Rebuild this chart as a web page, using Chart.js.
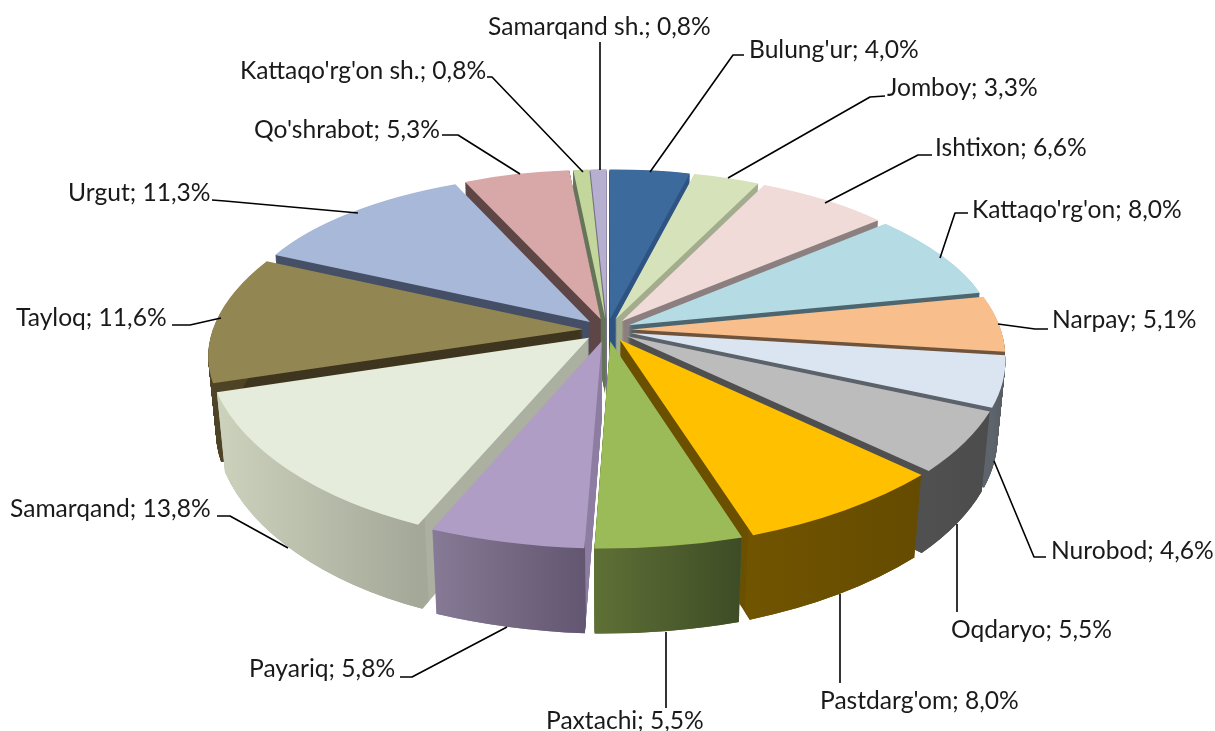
<!DOCTYPE html>
<html>
<head>
<meta charset="utf-8">
<style>html,body{margin:0;padding:0;background:#fff}#wrap{width:1215px;height:731px}</style>
<script src="https://cdn.jsdelivr.net/npm/chart.js@4"></script>
</head>
<body>
<div id="wrap"><canvas id="c" width="1215" height="731" style="width:1215px;height:731px"></canvas></div>
<script>
const categories = ["Bulung'ur","Jomboy","Ishtixon","Kattaqo'rg'on","Narpay","Nurobod","Oqdaryo","Pastdarg'om","Paxtachi","Payariq","Samarqand","Tayloq","Urgut","Qo'shrabot","Kattaqo'rg'on sh.","Samarqand sh."];
const shares = [4.0,3.3,6.6,8.0,5.1,4.6,5.5,8.0,5.5,5.8,13.8,11.6,11.3,5.3,0.8,0.8];
const topColors = ["#3C6A9C","#D6E2BA","#F0DBD9","#B5DBE5","#F8BE8C","#DBE5F1","#BCBCBC","#FFC000","#9BBB59","#B09DC5","#E6ECDB","#928752","#A8B8D8","#D8A8A8","#C3D69B","#B7AFD0"];
const cutColors = ["#2F5483","#A3AD8E","#8C7F7F","#4D6670","#70543C","#5C636B","#505050","#6B5000","#5A6E35","#8F7FA3","#ABB0A0","#3F3620","#454F66","#5F4646","#66755A","#77708A"];
const wallLeft  = ["#2F5483","#A3AD8E","#8C7F7F","#4D6670","#70543C","#5E646B","#505050","#705400","#5F7036","#877A96","#CDD2BD","#4E4425","#454F66","#5F4646","#66755A","#77708A"];
const wallRight = ["#2F5483","#A3AD8E","#8C7F7F","#4D6670","#70543C","#565B60","#4C4C4C","#654B00","#3D4C25","#625670","#A4A898","#4E4425","#454F66","#5F4646","#66755A","#77708A"];

const labelFont = '24.6px Lato, Carlito, sans-serif';
const labelAnchors = [[749,50],[887,88],[935,148],[972,210],[1052,320],[1051,551],[951,630],[820,701],[546,721],[249,669],[10,509],[16,318],[68,193],[254,130],[240,71],[488,27]];
const leaders = [
 [[744,55],[733,55],[650,172]],
 [[885,96],[870,97],[728,178]],
 [[932,155],[918,155],[825,203]],
 [[968,213],[955,213],[940,258]],
 [[1048,329],[1035,329],[998,324]],
 [[1046,557],[1034,557],[994,461]],
 [[957,612],[957,524]],
 [[840,683],[840,594]],
 [[666,708],[666,632]],
 [[400,677],[412,677],[507,627]],
 [[217,516],[230,516],[288,548]],
 [[172,325],[190,325],[221,318]],
 [[212,200],[225,201],[358,213]],
 [[442,135],[458,135],[520,174]],
 [[487,77],[492,77],[583,172]],
 [[600,42],[600,170]]
];

/* perspective of the tilted pie plane */
const view = {cx:607, cy:330, a:370, b:174, k:0.144, depth:78, m:0.02, explode:0.065};
function project(X, Y, z){
  const w = 1 + view.k*Y + view.m*z;
  return {x: view.cx + view.a*X/w, y: view.cy - (view.b*Y - view.depth*z)/w};
}
function sliceTransform(arc, z){
  const mid = (arc.startAngle+arc.endAngle)/2 + Math.PI/2;
  const ox = view.explode*Math.sin(mid), oy = view.explode*Math.cos(mid);
  const us=Math.cos(arc.startAngle), vs=Math.sin(arc.startAngle), ue=Math.cos(arc.endAngle), ve=Math.sin(arc.endAngle);
  const P = project(ox, oy, z);
  const S = project(ox+us, oy-vs, z);
  const E = project(ox+ue, oy-ve, z);
  const det = us*ve-ue*vs;
  const sx=S.x-P.x, sy=S.y-P.y, ex=E.x-P.x, ey=E.y-P.y;
  const Ax=(sx*ve-ex*vs)/det, Ay=(sy*ve-ey*vs)/det;
  const Bx=(ex*us-sx*ue)/det, By=(ey*us-sy*ue)/det;
  return {a:Ax,b:Ay,c:Bx,d:By,e:P.x,f:P.y};
}
function drawArc(ctx, arc, z, fill, inner){
  const t = sliceTransform(arc, z), r = arc.outerRadius;
  ctx.save();
  ctx.transform(t.a/r, t.b/r, t.c/r, t.d/r, t.e, t.f);
  ctx.translate(-arc.x, -arc.y);
  let style = fill;
  if (Array.isArray(fill)) {
    /* gradient that runs left to right on screen, whatever the slice's transform */
    const A=t.a/r, C=t.c/r, E=t.e - A*arc.x - C*arc.y, n=A*A+C*C;
    const pt = sx => [(sx-E)*A/n, (sx-E)*C/n];
    const p0 = pt(fill[0]), p1 = pt(fill[1]);
    style = ctx.createLinearGradient(p0[0],p0[1],p1[0],p1[1]);
    style.addColorStop(0, fill[2]); style.addColorStop(1, fill[3]);
  }
  const saved = arc.options, savedInner = arc.innerRadius;
  arc.options = Object.assign({}, saved, {backgroundColor:style, borderWidth:0, borderColor:'transparent', offset:0});
  if (inner) arc.innerRadius = inner*r;
  arc.draw(ctx);
  arc.options = saved; arc.innerRadius = savedInner;
  ctx.restore();
}
function xRange(arc){
  let lo=1e9, hi=-1e9;
  const mid=(arc.startAngle+arc.endAngle)/2+Math.PI/2, ox=view.explode*Math.sin(mid), oy=view.explode*Math.cos(mid);
  for(let i=0;i<=24;i++){
    const th=arc.startAngle+(arc.endAngle-arc.startAngle)*i/24;
    const p=project(ox+Math.cos(th), oy-Math.sin(th), 0);
    lo=Math.min(lo,p.x); hi=Math.max(hi,p.x);
  }
  return [lo,hi];
}
const pie3d = {
  id:'pie3d',
  beforeDatasetsDraw(chart){
    const ctx = chart.ctx;
    const arcs = chart.getDatasetMeta(0).data.map((arc,i)=>({arc,i}));
    arcs.sort((p,q)=>{
      const mp=(p.arc.startAngle+p.arc.endAngle)/2, mq=(q.arc.startAngle+q.arc.endAngle)/2;
      return Math.sin(mp)-Math.sin(mq);
    });
    const steps = 85;
    for (const {arc,i} of arcs){
      for (let s=steps; s>0; s--) drawArc(ctx, arc, s/steps, cutColors[i]);
      const [lo,hi] = xRange(arc);
      for (let s=steps; s>0; s--) drawArc(ctx, arc, s/steps, [lo,hi,wallLeft[i],wallRight[i]], 0.96);
      drawArc(ctx, arc, 0, topColors[i]);
    }
    return false;
  },
  afterDraw(chart){
    const ctx = chart.ctx;
    ctx.save();
    ctx.strokeStyle='#000'; ctx.lineWidth=1.6; ctx.lineJoin='round';
    leaders.forEach(path=>{
      ctx.beginPath();
      path.forEach((p,j)=> j?ctx.lineTo(p[0],p[1]):ctx.moveTo(p[0],p[1]));
      ctx.stroke();
    });
    ctx.fillStyle='#1a1a1a'; ctx.font=labelFont; ctx.textAlign='left'; ctx.textBaseline='middle';
    categories.forEach((name,i)=>{
      const text = name+'; '+shares[i].toFixed(1).replace('.',',')+'%';
      ctx.fillText(text, labelAnchors[i][0], labelAnchors[i][1]);
    });
    ctx.restore();
  }
};
new Chart(document.getElementById('c'),{
  type:'pie',
  data:{labels:categories,datasets:[{data:shares,backgroundColor:topColors,borderWidth:0}]},
  options:{responsive:false,animation:false,events:[],rotation:0,
    plugins:{legend:{display:false},tooltip:{enabled:false},title:{display:false}}},
  plugins:[pie3d]
});
</script>
</body>
</html>
